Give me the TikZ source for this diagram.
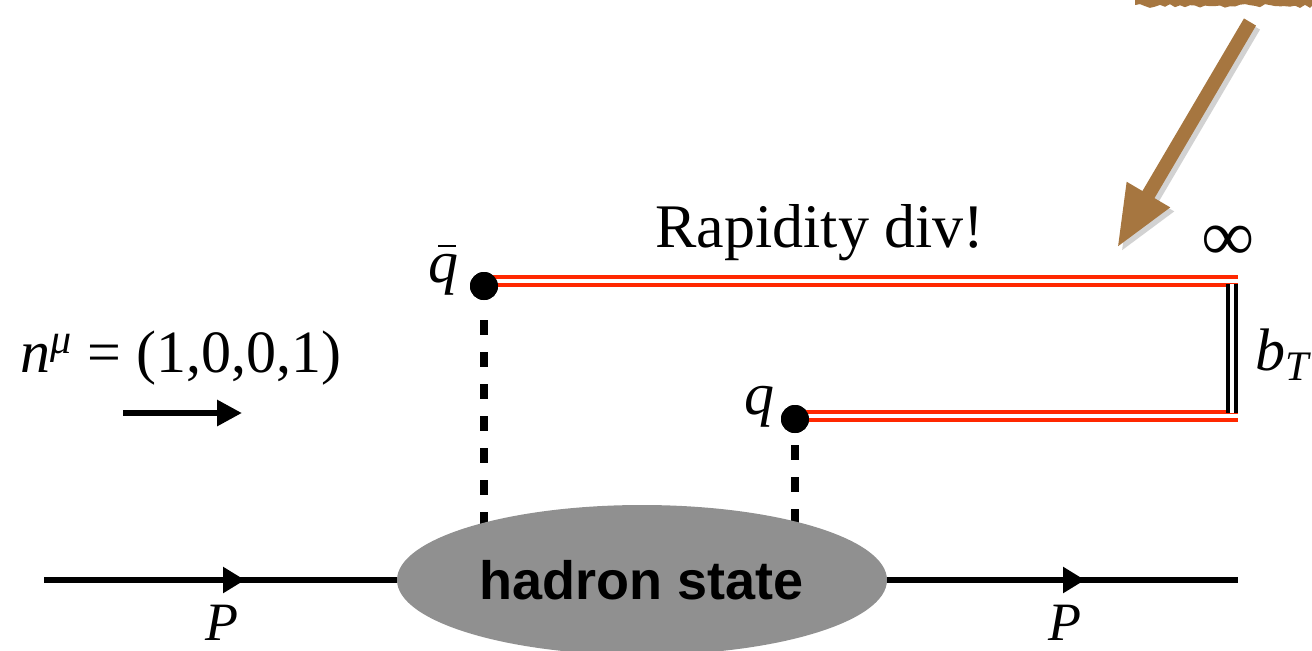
\documentclass[tikz,border=0pt]{standalone}
\usepackage{amsmath}
\usepackage{fontspec}
\setmainfont{Liberation Serif}
\newfontfamily\hadronfont{Liberation Sans}
\usetikzlibrary{arrows.meta, shapes.geometric}
\definecolor{wilsonred}{RGB}{255,40,0}
\definecolor{arrowbrown}{RGB}{166,118,64}
\definecolor{blobgray}{RGB}{144,144,144}
\begin{document}
\begin{tikzpicture}[
  x=0.5pt, y=-0.5pt,
  lbl/.style={inner sep=0pt, font=\fontsize{30}{36}\selectfont},
  dot/.style={circle, fill=black, inner sep=0pt, minimum size=14pt},
  wilson/.style={draw=wilsonred, double=white, line width=2pt, double distance=1.75pt},
  transverse/.style={draw=black, double=white, line width=2.1pt, double distance=2pt},
  gluon/.style={line width=4pt, dash pattern=on 7.5pt off 8.5pt},
  pline/.style={line width=3pt},
  ptip/.style={-{Triangle[length=11pt, width=12.5pt]}},
  blob/.style={ellipse, fill=blobgray, minimum width=245pt, minimum height=75pt, inner sep=0pt,
    font=\hadronfont\bfseries\fontsize{27}{32}\selectfont},
  pointer/.style={line width=7pt, draw=arrowbrown, -{Triangle[length=31pt, width=23pt]}},
]
\useasboundingbox (0,0) rectangle (1312,650);

\node[dot] (qbar) at (484,286) {};
\node[dot] (q) at (795,419) {};

\coordinate (blobtop) at (642,540);
\coordinate (inftop) at (1238,281);
\coordinate (infbot) at (1238,416);
\coordinate (pin) at (44,580);
\coordinate (pinmid) at (245,580);
\coordinate (poutmid) at (1085,580);
\coordinate (pout) at (1238,580);
\coordinate (nstart) at (123,413);
\coordinate (nend) at (242,413);
\coordinate (brushend) at (1250,22);
\coordinate (divtip) at (1117,248);

\draw[gluon] ([yshift=-10pt]qbar.south) -- (qbar |- blobtop);
\draw[gluon] ([yshift=-6pt]q.south) -- (q |- blobtop);
\node[blob] (hadron) at (642,580) {hadron state};

\draw[wilson] (qbar.center |- inftop) -- (inftop);
\draw[wilson] (q.center |- infbot) -- (infbot);
\draw[transverse] ([xshift=-3pt, yshift=-1.5pt]inftop) -- ([xshift=-3pt, yshift=1.5pt]infbot);
\node[dot] at (qbar) {};
\node[dot] at (q) {};

\draw[pline] (pin) -- (hadron.west);
\draw[pline, ptip] (pin) -- (pinmid);
\draw[pline] (hadron.east) -- (pout);
\draw[pline, ptip] (hadron.east) -- (poutmid);
\draw[pline, -{Triangle[length=12.5pt, width=12.5pt]}] (nstart) -- (nend);

\draw[pointer, draw=black!35, opacity=0.5, transform canvas={xshift=2pt, yshift=-2pt}] (brushend) -- (divtip);
\draw[pointer] (brushend) -- (divtip);

\node[lbl, anchor=base, font=\fontsize{31}{36}\selectfont] (rapdiv) at (820,247) {Rapidity div!};
\node[lbl, anchor=base west] (nvec) at (20,372) {\textit{n}\textsuperscript{\textit{μ}} = (1,0,0,1)};
\node[lbl, anchor=base east] (qbarlbl) at (459,282) {\textit{q}\llap{\rule[0.58em]{0.3em}{0.045em}\hspace{0.04em}}};
\node[lbl, anchor=base east] (qlbl) at (775,414) {\textit{q}};
\node[lbl, font=\bfseries\fontsize{36}{40}\selectfont] (inf) at (1228,243) {∞};
\node[lbl, anchor=base west] (bT) at (1255,370) {\textit{b}\textsubscript{\textit{T}}};
\node[lbl, anchor=base, font=\fontsize{27}{32}\selectfont] (pleft) at (222,640) {\textit{P}};
\node[lbl, anchor=base, font=\fontsize{27}{32}\selectfont] (pright) at (1065,640) {\textit{P}};

% brush stroke at the top
\fill[arrowbrown] (1135,0) -- (1135,5)
  \foreach \xx in {1140,1145,...,1310} { -- (\xx,{4+4*rnd}) } -- (1312,6) -- (1312,0) -- cycle;
\end{tikzpicture}
\end{document}
